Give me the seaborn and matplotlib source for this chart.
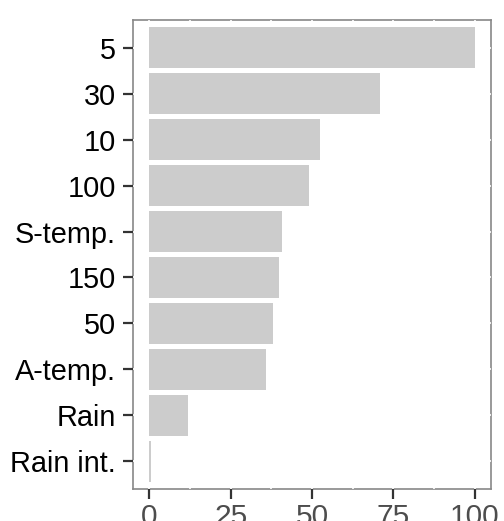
import matplotlib
matplotlib.use("Agg")
import matplotlib.pyplot as plt
import seaborn as sns
import pandas as pd

categories = ["5", "30", "10", "100", "S-temp.", "150", "50", "A-temp.", "Rain", "Rain int."]
values = [100, 71, 52.6, 49, 40.7, 39.8, 38, 35.8, 11.8, 0.4]
x_ticks = [0, 25, 50, 75, 100]

sns.set_style("white")
plt.rcParams["font.family"] = ["Liberation Sans", "DejaVu Sans"]

df = pd.DataFrame({"var": categories, "imp": values})

fig = plt.figure(figsize=(5.04, 5.21), dpi=100)
ax = fig.add_axes([133/504, 1-489/521, (491-133)/504, (489-20)/521])

sns.barplot(data=df, x="imp", y="var", orient="h", color="#cccccc",
            saturation=1, width=0.9, ax=ax, zorder=1, linewidth=0)

ax.set_xlim(-5, 105)
ax.set_ylim(len(categories) - 1 + 0.6, -0.6)
ax.set_xticks(x_ticks)
ax.set_xticks([12.5, 37.5, 62.5, 87.5], minor=True)
ax.set_xlabel("")
ax.set_ylabel("")

ax.set_axisbelow(True)
ax.grid(True, which="both", axis="x", color="white", linewidth=1.2)
ax.grid(True, which="major", axis="y", color="white", linewidth=1.2)
for s in ax.spines.values():
    s.set_visible(True)
    s.set_color("#888888")
    s.set_linewidth(1.2)
    s.set_zorder(0.1)

ax.tick_params(axis="x", which="major", length=7, width=1.6, color="#333333",
               labelsize=21.5, labelcolor="#4d4d4d", pad=3, bottom=True)
ax.tick_params(axis="x", which="minor", length=0)
ax.tick_params(axis="y", length=7, width=1.6, color="#333333",
               labelsize=20.8, labelcolor="black", pad=5.5, left=True)

fig.savefig("out.png", dpi=100)
